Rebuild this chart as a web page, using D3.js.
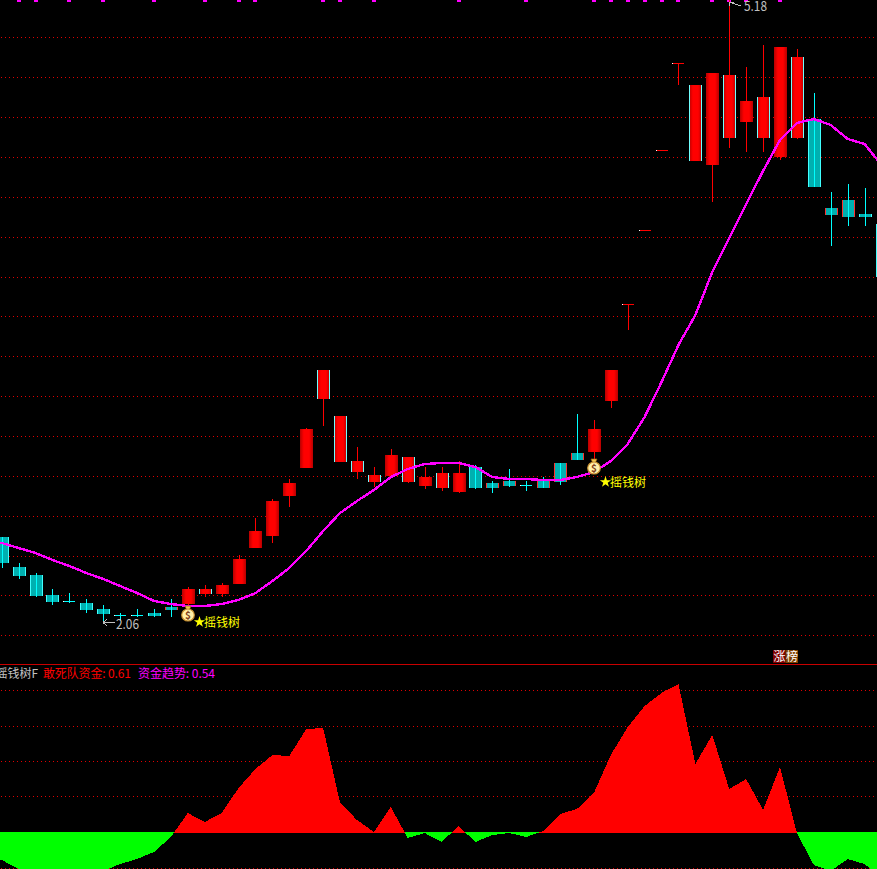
<!DOCTYPE html>
<html lang="zh">
<head>
<meta charset="utf-8">
<title>摇钱树F</title>
<script src="https://cdn.jsdelivr.net/npm/d3@7/dist/d3.min.js"></script>
<style>
html,body{margin:0;padding:0;background:#000;overflow:hidden}
svg{display:block}
text{font-family:"Noto Sans CJK SC","DejaVu Sans",sans-serif}
</style>
</head>
<body>
<script>
const opens  = [2.485,2.335,2.295,2.195,2.165,2.155,2.125,2.095,2.095,2.105,2.135,2.15,2.20,2.20,2.25,2.43,2.49,2.69,2.83,3.175,2.86,2.81,2.76,2.79,2.76,2.74,2.73,2.71,2.835,2.755,2.765,2.745,2.765,2.855,2.905,2.91,3.165,3.65,4.0175,4.4175,4.8525,4.365,4.345,4.48,4.56,4.48,4.385,4.48,4.575,4.13,4.17,4.10,4.05];
const highs  = [2.485,2.355,2.305,2.225,2.205,2.175,2.145,2.105,2.125,2.125,2.175,2.235,2.245,2.255,2.395,2.58,2.675,2.775,3.03,3.32,3.09,2.935,2.835,2.925,2.885,2.835,2.835,2.865,2.845,2.765,2.825,2.765,2.785,2.855,3.10,3.07,3.32,3.65,4.0175,4.4175,4.8525,4.745,4.805,5.18,4.835,4.945,4.935,4.925,4.705,4.21,4.25,4.23,4.05];
const lows   = [2.33,2.275,2.185,2.145,2.155,2.105,2.06,2.065,2.085,2.085,2.085,2.135,2.185,2.185,2.25,2.43,2.455,2.635,2.83,3.04,2.86,2.775,2.735,2.79,2.755,2.725,2.715,2.705,2.725,2.705,2.735,2.715,2.73,2.745,2.87,2.87,3.13,3.52,4.0175,4.4175,4.745,4.365,4.16,4.43,4.41,4.41,4.37,4.475,4.235,3.94,4.04,4.04,3.785];
const closes = [2.355,2.29,2.19,2.16,2.1625,2.12,2.10,2.0925,2.0925,2.09,2.12,2.225,2.225,2.245,2.375,2.515,2.665,2.755,3.025,3.32,3.09,2.865,2.795,2.895,2.885,2.785,2.805,2.805,2.73,2.73,2.74,2.7425,2.73,2.76,2.87,3.025,3.32,3.65,4.0175,4.4175,4.8525,4.745,4.805,4.795,4.665,4.685,4.935,4.885,4.235,4.095,4.085,4.085,3.785];
const trendLine = [2.455,2.43,2.405,2.37,2.34,2.305,2.275,2.24,2.205,2.165,2.15,2.14,2.14,2.15,2.17,2.205,2.265,2.33,2.415,2.515,2.605,2.665,2.72,2.785,2.825,2.85,2.855,2.855,2.835,2.785,2.775,2.775,2.77,2.77,2.785,2.81,2.865,2.95,3.085,3.26,3.445,3.595,3.81,3.98,4.15,4.315,4.47,4.555,4.575,4.545,4.475,4.45,4.345];
const trendBefore = 2.46;
const fund = [-0.28,-0.37,-0.43,-0.48,-0.50,-0.48,-0.39,-0.32,-0.27,-0.20,-0.05,0.19,0.10,0.19,0.44,0.63,0.77,0.76,1.03,1.04,0.29,0.12,0,0.25,-0.06,-0.01,-0.10,0.06,-0.10,-0.03,-0.01,-0.05,0.01,0.18,0.23,0.39,0.77,1.05,1.26,1.39,1.48,0.68,0.97,0.43,0.53,0.22,0.65,-0.01,-0.33,-0.39,-0.27,-0.32,-0.46];
const fundBefore = -0.22;
const priceGrid = [4.985,4.785,4.585,4.385,4.185,3.985,3.785,3.59,3.39,3.19,2.99,2.79,2.59,2.39,2.195,1.995];
const fundGrid = [1.42,1.06,0.71,0.36,-0.36];
const topFlags = [1,2,4,6,9,12,14,15,19,20,22,27,31,35,36,37,38,39,40,42,43,44,46];
const paleEdgeUp = [12,19,20,21,22,24,26,41,43,45,47];
const redEdgeDown = [10,29,30,32,33,34,49,50];
const signals = [{i:11,price:2.10,drop:0},{i:35,price:2.835,drop:7}];
const extremes = [{i:6,price:2.06,label:"2.06"},{i:43,price:5.18,label:"5.18"}];
const signalText = "摇钱树";
const panelName = "摇钱树F";
const fundLabel = "敢死队资金: 0.61";
const trendLabel = "资金趋势: 0.54";
const boardLabel = ["涨","榜"];

const W=877,H=869;
const svg=d3.select("body").append("svg").attr("width",W).attr("height",H).style("background","#000");
const defs=svg.append("defs");
const g=defs.append("linearGradient").attr("id","redBody");
[[0,"#b80000"],[0.3,"#ff0000"],[0.7,"#ff0000"],[1,"#b80000"]].forEach(s=>g.append("stop").attr("offset",s[0]).attr("stop-color",s[1]));

const x=d3.scaleLinear().domain([0,52]).range([1.7,881.5]);
const y=d3.scaleLinear().domain([5.17,1.995]).range([0,635]);
const yF=d3.scaleLinear().domain([0,1.48]).range([832,684]);
const cx=i=>Math.round(x(i));
const py=v=>Math.round(y(v));

const candles=opens.map((o,i)=>({i,o,h:highs[i],l:lows[i],c:closes[i],up:closes[i]>=o}));
const isFlat=d=>Math.abs(py(d.o)-py(d.c))<=1;

// grids: one-pixel dots on a four-pixel period
const dot=sel=>sel.attr("stroke","#e00000").attr("stroke-width",1).attr("stroke-dasharray","1 3");
svg.append("g").selectAll("line").data(priceGrid).join("line")
  .attr("x1",1).attr("x2",W).attr("y1",d=>py(d)+.5).attr("y2",d=>py(d)+.5).call(dot);
svg.append("g").selectAll("line").data(fundGrid).join("line")
  .attr("x1",1).attr("x2",W).attr("y1",d=>Math.round(yF(d))+.5).attr("y2",d=>Math.round(yF(d))+.5).call(dot);

// panel rule
svg.append("rect").attr("x",0).attr("y",664).attr("width",W).attr("height",1).attr("fill","#c80000");

// top flags
svg.append("g").selectAll("rect").data(topFlags).join("rect")
  .attr("x",d=>cx(d)-2).attr("y",0).attr("width",4).attr("height",2).attr("fill","#ff00ff");

// candles
const cg=svg.append("g").attr("shape-rendering","crispEdges");
const cdl=cg.selectAll("g").data(candles).join("g");
cdl.filter(d=>d.up&&!isFlat(d)).append("rect")
  .attr("x",d=>cx(d.i)-6).attr("width",13)
  .attr("y",d=>py(d.c)).attr("height",d=>py(d.o)-py(d.c)).attr("fill","url(#redBody)");
cdl.filter(d=>!d.up&&!isFlat(d)).append("rect")
  .attr("x",d=>cx(d.i)-6).attr("width",13)
  .attr("y",d=>py(d.o)).attr("height",d=>py(d.c)-py(d.o)).attr("fill","#00b0b0");
// body side edges
const edgeFilter=d=>!isFlat(d)&&(!d.up||paleEdgeUp.includes(d.i));
const edgeCol=d=>d.up?"#70ffff":(redEdgeDown.includes(d.i)?"#ff3030":"#40ffff");
[-6,6].forEach(off=>{
  cdl.filter(edgeFilter).append("rect")
    .attr("x",d=>cx(d.i)+off).attr("width",1)
    .attr("y",d=>py(Math.max(d.o,d.c))).attr("height",d=>Math.abs(py(d.o)-py(d.c)))
    .attr("fill",edgeCol);
});
// wicks
cdl.filter(d=>py(d.l)>py(d.h)).append("rect")
  .attr("x",d=>cx(d.i)).attr("width",1)
  .attr("y",d=>py(d.h)).attr("height",d=>py(d.l)-py(d.h)).attr("fill",d=>d.up?"#ff0000":"#00ffff");
// flat bars (open equals close)
cdl.filter(isFlat).append("rect")
  .attr("x",d=>cx(d.i)-6).attr("width",12)
  .attr("y",d=>py(d.o)).attr("height",1).attr("fill",d=>d.up?"#ff0000":"#00ffff");
cdl.filter(isFlat).append("rect")
  .attr("x",d=>cx(d.i)-6).attr("width",1)
  .attr("y",d=>py(d.o)).attr("height",1).attr("fill","#ffffff");

// trend line
const trendFull=[trendBefore,...trendLine];
svg.append("path").datum(trendFull)
  .attr("d",d3.line().x((d,i)=>x(i-1)).y(d=>y(d)))
  .attr("fill","none").attr("stroke","#ff00ff").attr("stroke-width",2.4).attr("shape-rendering","crispEdges");

// extreme labels
const ex=svg.append("g").selectAll("g").data(extremes).join("g");
ex.append("path").attr("fill","none").attr("stroke","#c0c0c0").attr("stroke-width",1)
  .attr("shape-rendering","crispEdges")
  .attr("d",d=>{
    const px=cx(d.i);
    return d.i<20
      ? `M${px},${py(d.price)+.5}h12M${px},${py(d.price)+.5}l4,-3M${px},${py(d.price)+.5}l4,3`
      : `M${px},2l12,4M${px},2l5,0M${px},2l1,4`;
  });
ex.append("text").text(d=>d.label).attr("fill","#c0c0c0").attr("font-size",13.5)
  .attr("font-family","Roboto,'DejaVu Sans',sans-serif")
  .attr("textLength",23).attr("lengthAdjust","spacingAndGlyphs")
  .attr("x",d=>cx(d.i)+(d.i<20?13:15))
  .attr("y",d=>d.i<20?py(d.price)+7:11);

// signals
const sg=svg.append("g").selectAll("g").data(signals).join("g")
  .attr("transform",d=>`translate(${cx(d.i)},${py(d.price)})`);
sg.append("path").attr("d","M-3,-8h6l-1.5,3.5h-3z").attr("fill","#f0c850").attr("stroke","#a06010").attr("stroke-width",.7);
sg.append("ellipse").attr("cx",0).attr("cy",1).attr("rx",6.3).attr("ry",6).attr("fill","#fff0a8").attr("stroke","#c89030").attr("stroke-width",1.2);
sg.append("text").text("$").attr("text-anchor","middle").attr("y",4.5).attr("font-size",10).attr("font-weight",700).attr("fill","#804020");
sg.append("path").attr("d",d3.symbol(d3.symbolStar,40)()).attr("transform",d=>`translate(11.5,${8+d.drop})`).attr("fill","#ffff00");
sg.append("text").text(signalText).attr("x",16).attr("y",d=>13+d.drop).attr("font-size",12).attr("fill","#ffff00");

// board tag
const tagX=d3.scaleBand().domain(boardLabel).range([773,798]);
const tag=svg.append("g").selectAll("g").data(boardLabel).join("g");
tag.append("rect").attr("x",d=>tagX(d)).attr("y",650).attr("width",tagX.bandwidth()).attr("height",13)
  .attr("fill",(d,i)=>i?"#804000":"#800000");
tag.append("text").text(d=>d).attr("x",d=>tagX(d)+.5).attr("y",661).attr("font-size",12).attr("fill","#fff");

// header texts
const hdr=svg.append("g");
hdr.append("text").text(panelName).attr("x",-4.5).attr("y",678).attr("font-size",12).attr("fill","#c0c0c0");
hdr.append("text").text(fundLabel).attr("x",43).attr("y",678).attr("font-size",12).attr("fill","#ff0000")
  .attr("textLength",88).attr("lengthAdjust","spacing");
hdr.append("text").text(trendLabel).attr("x",138).attr("y",678).attr("font-size",12).attr("fill","#ff00ff")
  .attr("textLength",77).attr("lengthAdjust","spacing");

// fund areas
const fundFull=[fundBefore,...fund];
defs.append("clipPath").attr("id","abv").append("rect").attr("x",0).attr("y",0).attr("width",W).attr("height",833);
defs.append("clipPath").attr("id","blw").append("rect").attr("x",0).attr("y",832).attr("width",W).attr("height",40);
svg.append("path").datum(fundFull).attr("clip-path","url(#blw)").attr("fill","#00ff00").attr("shape-rendering","crispEdges")
  .attr("d",d3.area().x((d,i)=>x(i-1)).y0(832).y1(d=>yF(d)));
svg.append("path").datum(fundFull).attr("clip-path","url(#abv)").attr("fill","#ff0000").attr("shape-rendering","crispEdges")
  .attr("d",d3.area().x((d,i)=>x(i-1)).y0(833).y1(d=>yF(d)));
</script>
</body>
</html>
